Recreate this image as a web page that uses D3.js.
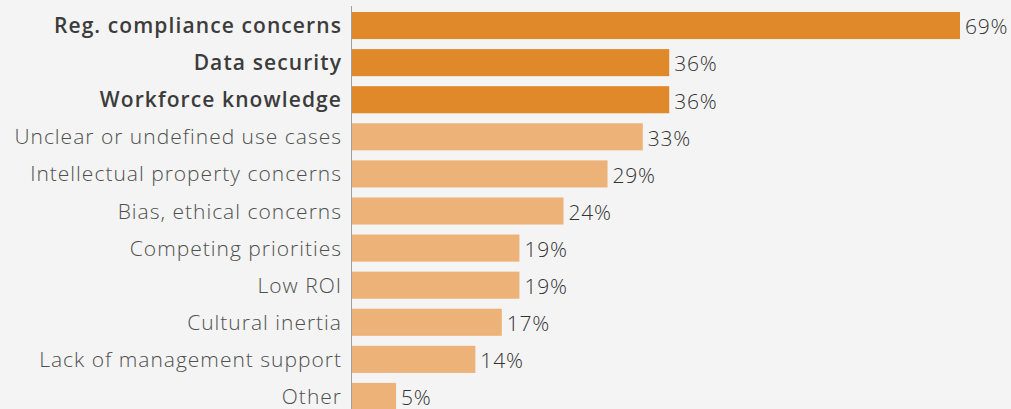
<!DOCTYPE html>
<html>
<head>
<meta charset="utf-8">
<script src="https://cdn.jsdelivr.net/npm/d3@7"></script>
<style>
  html, body { margin: 0; padding: 0; background: #f3f4f3; }
  svg { display: block; }
  text { font-family: "Open Sans", "Noto Sans", sans-serif; }
</style>
</head>
<body>
<svg id="chart" width="1011" height="409"></svg>
<script>
// Barriers to adoption, share of respondents (%)
const categories = [
  "Reg. compliance concerns",
  "Data security",
  "Workforce knowledge",
  "Unclear or undefined use cases",
  "Intellectual property concerns",
  "Bias, ethical concerns",
  "Competing priorities",
  "Low ROI",
  "Cultural inertia",
  "Lack of management support",
  "Other"
];
const values = [69, 36, 36, 33, 29, 24, 19, 19, 17, 14, 5];
// top three barriers are highlighted
const highlighted = [true, true, true, false, false, false, false, false, false, false, false];

const rows = categories.map((c, i) => ({ name: c, value: values[i], hi: highlighted[i] }));

const svg = d3.select("#chart");
const axisX = 352;

const x = d3.scaleLinear().domain([0, 69]).range([axisX, 960]);
const y = d3.scaleBand().domain(categories).range([12, 410]).paddingInner(0.27).paddingOuter(0);

// bars
svg.append("g").selectAll("rect")
  .data(rows).join("rect")
  .attr("x", x(0))
  .attr("y", d => y(d.name))
  .attr("width", d => x(d.value) - x(0))
  .attr("height", y.bandwidth())
  .attr("fill", d => d.hi ? "#e0892a" : "#edb277");

// vertical baseline
svg.append("line")
  .attr("x1", axisX - 0.5).attr("x2", axisX - 0.5)
  .attr("y1", 6).attr("y2", 409)
  .attr("stroke", "#a0a0a0").attr("stroke-width", 1);

// category labels
svg.append("g").selectAll("text")
  .data(rows).join("text")
  .attr("x", 342)
  .attr("y", d => y(d.name) + y.bandwidth() / 2)
  .attr("dy", "0.36em")
  .attr("text-anchor", "end")
  .attr("font-size", 21)
  .attr("letter-spacing", d => d.hi ? "1.1px" : "1px")
  .attr("font-weight", d => d.hi ? 600 : 300)
  .attr("fill", d => d.hi ? "#3c3c3c" : "#505050")
  .text(d => d.name);

// value labels
svg.append("g").selectAll("text")
  .data(rows).join("text")
  .attr("x", d => x(d.value) + 5)
  .attr("y", d => y(d.name) + y.bandwidth() / 2 + 1.5)
  .attr("dy", "0.35em")
  .attr("font-size", 21)
  .attr("letter-spacing", "0.8px")
  .attr("font-weight", 300)
  .attr("fill", "#333")
  .text(d => d.value + "%");
</script>
</body>
</html>
